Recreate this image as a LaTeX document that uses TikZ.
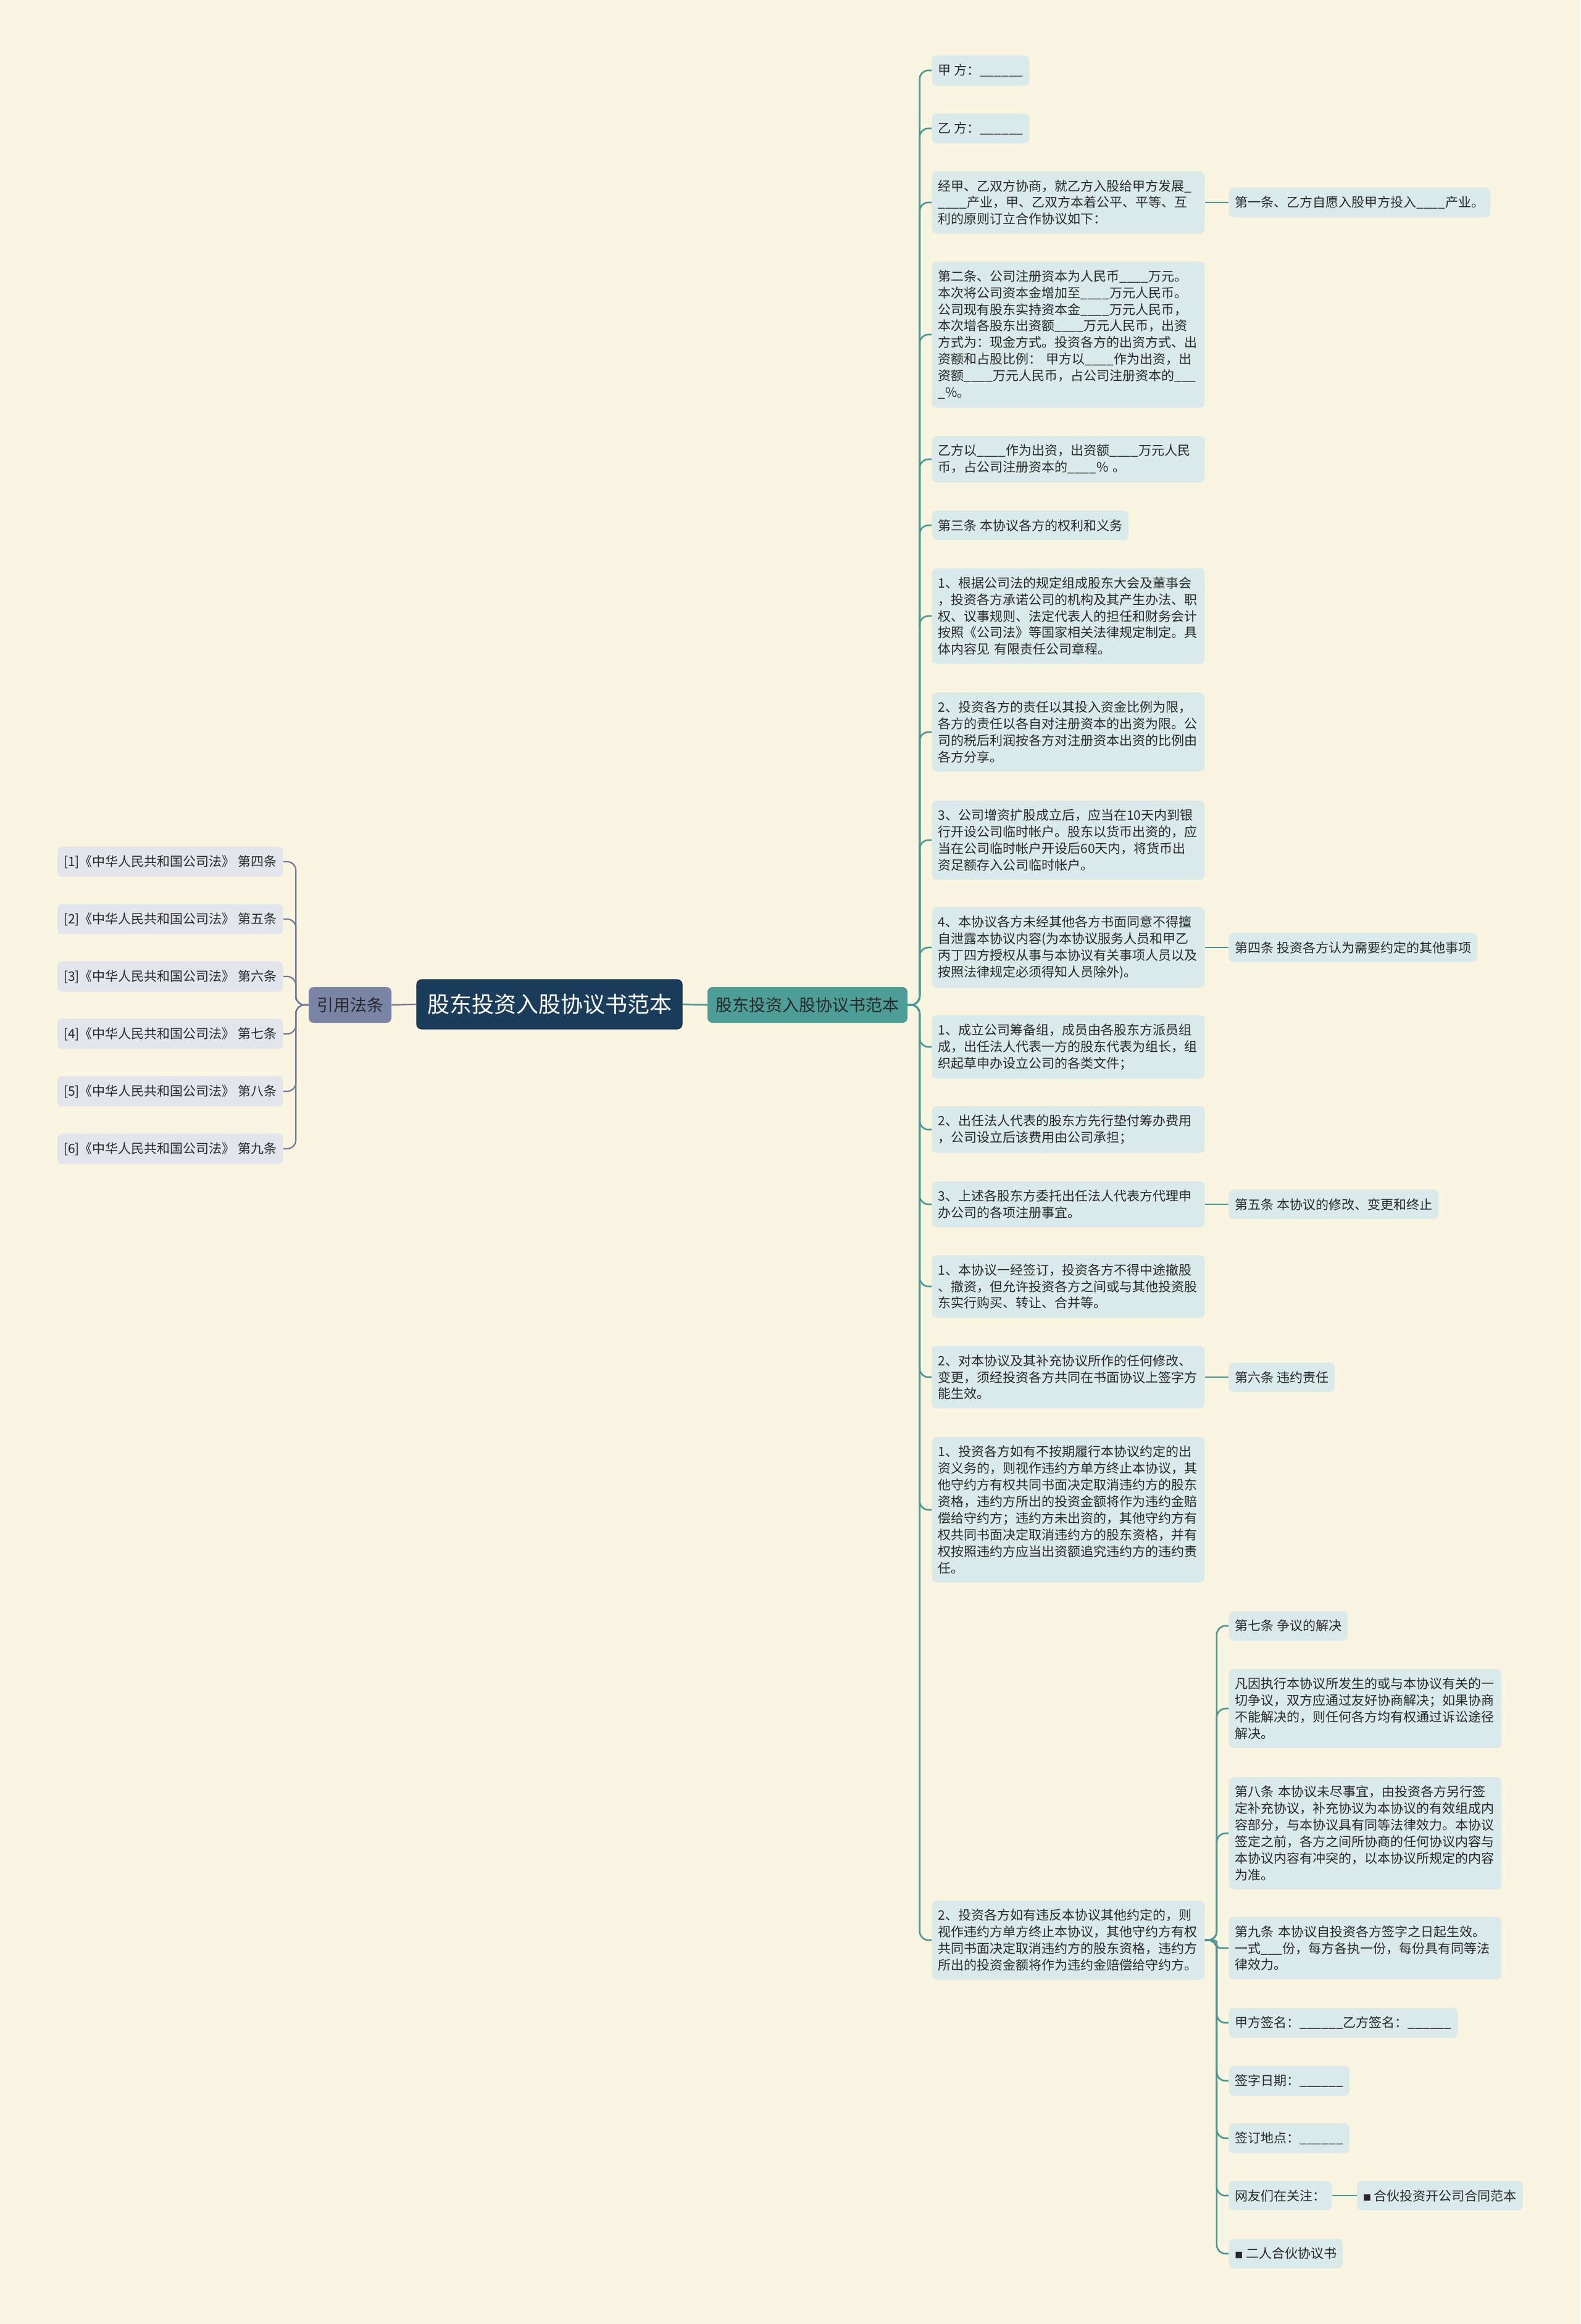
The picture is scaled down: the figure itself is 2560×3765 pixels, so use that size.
\documentclass[tikz,border=0pt]{standalone}
\usepackage{fontspec}
\setmainfont{Noto Sans CJK SC}
\usetikzlibrary{calc,positioning}
\definecolor{paper}{RGB}{250,245,224}
\definecolor{leaffill}{RGB}{218,233,233}
\definecolor{lawfill}{RGB}{227,229,236}
\definecolor{slate}{RGB}{122,132,165}
\definecolor{navy}{RGB}{26,61,92}
\definecolor{branch}{RGB}{78,158,152}
\definecolor{tealline}{RGB}{74,152,148}
\definecolor{slateline}{RGB}{110,121,150}
\definecolor{ink}{RGB}{40,40,40}
\newcommand{\sqmark}{{\fontsize{6.5}{6.5}\selectfont ■}}

\begin{document}
\begin{tikzpicture}[x=0.5pt,y=-0.5pt]
	\tikzset{line/.style={draw,line width=1.3pt,rounded corners=7pt}}
	\tikzset{elbow/.style={line,to path={-| ($(\tikztostart)!0.5!(\tikztotarget)$) |- (\tikztotarget)}}}
	\tikzset{box/.style={rounded corners=4pt,inner xsep=5pt,inner ysep=7pt,text=ink,align=left,font=\fontsize{10.5}{13.45}\selectfont}}
	\tikzset{leaf/.style={box,fill=leaffill,anchor=west}}
	\tikzset{wide/.style={leaf,text width=211pt}}
	\tikzset{law/.style={box,fill=lawfill,anchor=east}}

	\fill[paper] (0,0) rectangle (2560,3765);
	\useasboundingbox (0,0) rectangle (2560,3765);

	% centre
	\node[fill=navy,draw=navy!75!black,line width=0.6pt,text=white,rounded corners=4pt,minimum width=215pt,minimum height=40pt,font=\fontsize{18}{18}\selectfont] (root) at (890,1627) {股东投资入股协议书范本};
	\node[fill=slate,text=ink,rounded corners=4pt,minimum width=67pt,minimum height=29pt,font=\fontsize{13.5}{13.5}\selectfont] (cite) at (567,1628) {引用法条};
	\node[fill=branch,text=ink,rounded corners=4pt,minimum width=162pt,minimum height=29pt,font=\fontsize{13.5}{13.5}\selectfont] (main) at (1308,1628) {股东投资入股协议书范本};

	% left
	\node[law] (r1) at (459,1396) {[1]《中华人民共和国公司法》 第四条};
	\node[law] (r2) at (459,1489) {[2]《中华人民共和国公司法》 第五条};
	\node[law] (r3) at (459,1582) {[3]《中华人民共和国公司法》 第六条};
	\node[law] (r4) at (459,1675) {[4]《中华人民共和国公司法》 第七条};
	\node[law] (r5) at (459,1768) {[5]《中华人民共和国公司法》 第八条};
	\node[law] (r6) at (459,1861) {[6]《中华人民共和国公司法》 第九条};

	% right
	\node[leaf] (b1) at (1509,114) {甲 方：\_\_\_\_\_\_};
	\node[leaf] (b2) at (1509,208) {乙 方：\_\_\_\_\_\_};
	\node[wide] (b3) at (1509,328) {经甲、乙双方协商，就乙方入股给甲方发展\_\\\_\_\_\_产业，甲、乙双方本着公平、平等、互\\利的原则订立合作协议如下：};
	\node[wide] (b4) at (1509,542) {第二条、公司注册资本为人民币\_\_\_\_万元。\\本次将公司资本金增加至\_\_\_\_万元人民币。\\公司现有股东实持资本金\_\_\_\_万元人民币，\\本次增各股东出资额\_\_\_\_万元人民币，出资\\方式为：现金方式。投资各方的出资方式、出\\资额和占股比例：~甲方以\_\_\_\_作为出资，出\\资额\_\_\_\_万元人民币，占公司注册资本的\_\_\_\\\_\%。};
	\node[wide] (b5) at (1509,744) {乙方以\_\_\_\_作为出资，出资额\_\_\_\_万元人民\\币，占公司注册资本的\_\_\_\_\%~。};
	\node[leaf] (b6) at (1509,851) {第三条 本协议各方的权利和义务};
	\node[wide] (b7) at (1509,998) {1、根据公司法的规定组成股东大会及董事会\\，投资各方承诺公司的机构及其产生办法、职\\权、议事规则、法定代表人的担任和财务会计\\按照《公司法》等国家相关法律规定制定。具\\体内容见 有限责任公司章程。};
	\node[wide] (b8) at (1509,1186) {2、投资各方的责任以其投入资金比例为限，\\各方的责任以各自对注册资本的出资为限。公\\司的税后利润按各方对注册资本出资的比例由\\各方分享。};
	\node[wide] (b9) at (1509,1361) {3、公司增资扩股成立后，应当在10天内到银\\行开设公司临时帐户。股东以货币出资的，应\\当在公司临时帐户开设后60天内，将货币出\\资足额存入公司临时帐户。};
	\node[wide] (b10) at (1509,1535) {4、本协议各方未经其他各方书面同意不得擅\\自泄露本协议内容(为本协议服务人员和甲乙\\丙丁四方授权从事与本协议有关事项人员以及\\按照法律规定必须得知人员除外)。};
	\node[wide] (b11) at (1509,1696) {1、成立公司筹备组，成员由各股东方派员组\\成，出任法人代表一方的股东代表为组长，组\\织起草申办设立公司的各类文件；};
	\node[wide] (b12) at (1509,1830) {2、出任法人代表的股东方先行垫付筹办费用\\，公司设立后该费用由公司承担；};
	\node[wide] (b13) at (1509,1951) {3、上述各股东方委托出任法人代表方代理申\\办公司的各项注册事宜。};
	\node[wide] (b14) at (1509,2084) {1、本协议一经签订，投资各方不得中途撤股\\、撤资，但允许投资各方之间或与其他投资股\\东实行购买、转让、合并等。};
	\node[wide] (b15) at (1509,2231) {2、对本协议及其补充协议所作的任何修改、\\变更，须经投资各方共同在书面协议上签字方\\能生效。};
	\node[wide] (b16) at (1509,2446) {1、投资各方如有不按期履行本协议约定的出\\资义务的，则视作违约方单方终止本协议，其\\他守约方有权共同书面决定取消违约方的股东\\资格，违约方所出的投资金额将作为违约金赔\\偿给守约方；违约方未出资的，其他守约方有\\权共同书面决定取消违约方的股东资格，并有\\权按照违约方应当出资额追究违约方的违约责\\任。};
	\node[wide] (b17) at (1509,3143) {2、投资各方如有违反本协议其他约定的，则\\视作违约方单方终止本协议，其他守约方有权\\共同书面决定取消违约方的股东资格，违约方\\所出的投资金额将作为违约金赔偿给守约方。};

	\node[leaf] (c3) at (1990,328) {第一条、乙方自愿入股甲方投入\_\_\_\_产业。};
	\node[leaf] (c10) at (1990,1535) {第四条 投资各方认为需要约定的其他事项};
	\node[leaf] (c13) at (1990,1951) {第五条 本协议的修改、变更和终止};
	\node[leaf] (c15) at (1990,2231) {第六条 违约责任};

	\node[leaf] (d1) at (1990,2634) {第七条 争议的解决};
	\node[wide] (d2) at (1990,2768) {凡因执行本协议所发生的或与本协议有关的一\\切争议，双方应通过友好协商解决；如果协商\\不能解决的，则任何各方均有权通过诉讼途径\\解决。};
	\node[wide] (d3) at (1990,2970) {第八条 本协议未尽事宜，由投资各方另行签\\定补充协议，补充协议为本协议的有效组成内\\容部分，与本协议具有同等法律效力。本协议\\签定之前，各方之间所协商的任何协议内容与\\本协议内容有冲突的，以本协议所规定的内容\\为准。};
	\node[wide] (d4) at (1990,3156) {第九条 本协议自投资各方签字之日起生效。\\一式\_\_\_份，每方各执一份，每份具有同等法\\律效力。};
	\node[leaf] (d5) at (1990,3277) {甲方签名：\_\_\_\_\_\_乙方签名：\_\_\_\_\_\_};
	\node[leaf] (d6) at (1990,3371) {签字日期：\_\_\_\_\_\_};
	\node[leaf] (d7) at (1990,3464) {签订地点：\_\_\_\_\_\_};
	\node[leaf] (d8) at (1990,3557) {网友们在关注：};
	\node[leaf,right=20pt of d8] (e8) {\sqmark{} 合伙投资开公司合同范本};
	\node[leaf] (d9) at (1990,3651) {\sqmark{} 二人合伙协议书};

	% links
	\path[line,slateline,line width=1.1pt] (root.west) -- (cite.east);
	\path[line,tealline] (root.east) -- (main.west);

	\path[elbow,slateline,line width=1.1pt] (cite.west) to (r1.east);
	\path[elbow,slateline,line width=1.1pt] (cite.west) to (r2.east);
	\path[elbow,slateline,line width=1.1pt] (cite.west) to (r3.east);
	\path[elbow,slateline,line width=1.1pt] (cite.west) to (r4.east);
	\path[elbow,slateline,line width=1.1pt] (cite.west) to (r5.east);
	\path[elbow,slateline,line width=1.1pt] (cite.west) to (r6.east);

	\path[elbow,tealline] (main.east) to (b1.west);
	\path[elbow,tealline] (main.east) to (b2.west);
	\path[elbow,tealline] (main.east) to (b3.west);
	\path[elbow,tealline] (main.east) to (b4.west);
	\path[elbow,tealline] (main.east) to (b5.west);
	\path[elbow,tealline] (main.east) to (b6.west);
	\path[elbow,tealline] (main.east) to (b7.west);
	\path[elbow,tealline] (main.east) to (b8.west);
	\path[elbow,tealline] (main.east) to (b9.west);
	\path[elbow,tealline] (main.east) to (b10.west);
	\path[elbow,tealline] (main.east) to (b11.west);
	\path[elbow,tealline] (main.east) to (b12.west);
	\path[elbow,tealline] (main.east) to (b13.west);
	\path[elbow,tealline] (main.east) to (b14.west);
	\path[elbow,tealline] (main.east) to (b15.west);
	\path[elbow,tealline] (main.east) to (b16.west);
	\path[elbow,tealline] (main.east) to (b17.west);

	\path[line,tealline] (b3.east) -- (c3.west);
	\path[line,tealline] (b10.east) -- (c10.west);
	\path[line,tealline] (b13.east) -- (c13.west);
	\path[line,tealline] (b15.east) -- (c15.west);

	\path[elbow,tealline] (b17.east) to (d1.west);
	\path[elbow,tealline] (b17.east) to (d2.west);
	\path[elbow,tealline] (b17.east) to (d3.west);
	\path[elbow,tealline,rounded corners=3pt] (b17.east) to (d4.west);
	\path[elbow,tealline] (b17.east) to (d5.west);
	\path[elbow,tealline] (b17.east) to (d6.west);
	\path[elbow,tealline] (b17.east) to (d7.west);
	\path[elbow,tealline] (b17.east) to (d8.west);
	\path[elbow,tealline] (b17.east) to (d9.west);
	\path[line,tealline] (d8.east) -- (e8.west);
\end{tikzpicture}
\end{document}
